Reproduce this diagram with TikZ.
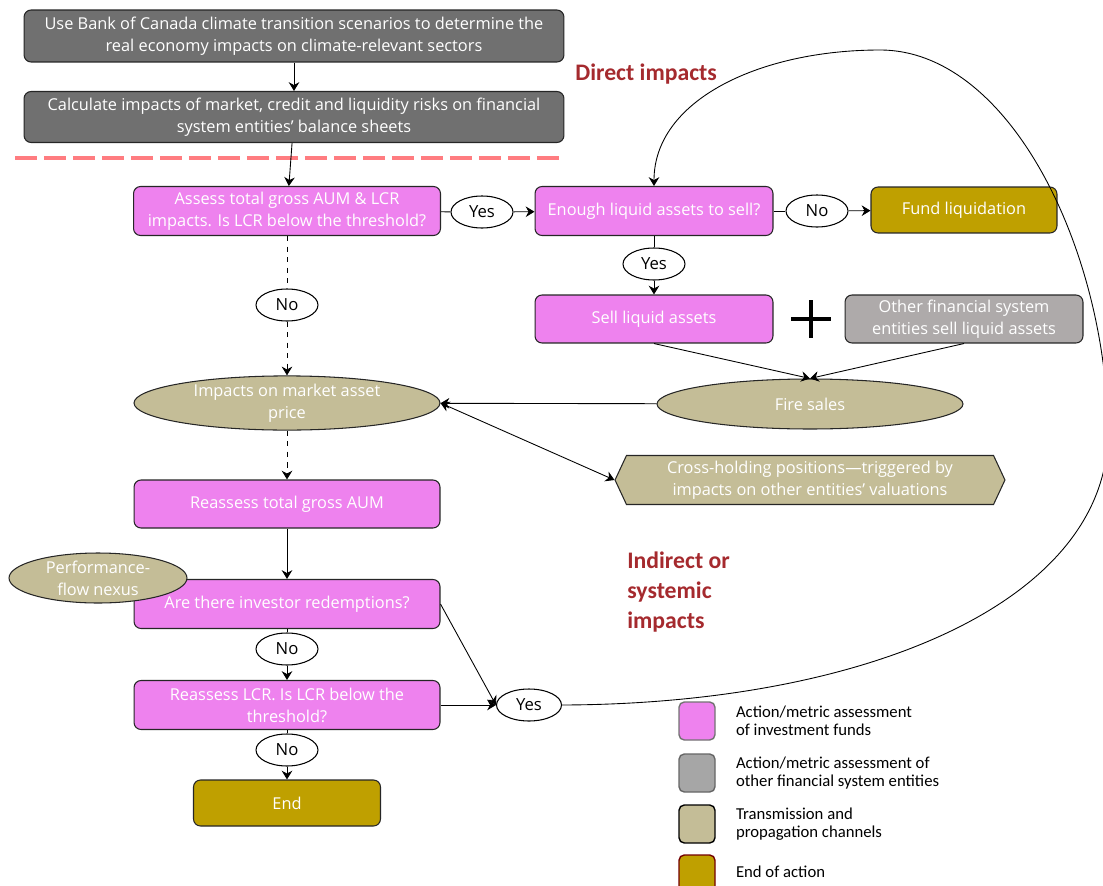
\documentclass[tikz,border=0pt]{standalone}
\usepackage{fontspec}
\setmainfont{Open Sans}
\newfontfamily\keyfont{Carlito}
\usepackage{tikz}
\usetikzlibrary{arrows.meta}
\usetikzlibrary{shapes.geometric, shapes.symbols}
\usetikzlibrary{positioning}

\definecolor{stepgrey}{RGB}{112,112,112}
\definecolor{fundpink}{RGB}{238,130,238}
\definecolor{endgold}{RGB}{191,160,0}
\definecolor{chantan}{RGB}{196,189,151}
\definecolor{othergrey}{RGB}{174,170,170}
\definecolor{keygrey}{RGB}{166,166,166}
\definecolor{headred}{RGB}{165,42,46}
\definecolor{cutred}{RGB}{255,124,128}

\tikzset{
  box/.style={rectangle, rounded corners=4pt, draw=black!85, line width=0.6pt,
    text=white, align=center, inner sep=2pt, font=\fontsize{9.3}{12.5}\selectfont},
  chan/.style={ellipse, draw=black!85, fill=chantan, line width=0.6pt,
    text=white, align=center, inner sep=0pt, font=\fontsize{9.3}{12.5}\selectfont},
  answer/.style={ellipse, draw=black, fill=white, line width=0.6pt,
    minimum width=1.24cm, minimum height=0.64cm, inner sep=0pt,
    font=\fontsize{9.5}{11}\selectfont},
  header/.style={text=headred, inner sep=0pt, align=left,
    font=\keyfont\bfseries\fontsize{13.5}{17.2}\selectfont},
  keybox/.style={rectangle, rounded corners=3pt, line width=0.8pt,
    minimum width=0.72cm, minimum height=0.76cm},
  keytext/.style={inner sep=0pt, align=left, font=\keyfont\fontsize{9.5}{10.5}\selectfont}
}

\begin{document}
\begin{tikzpicture}[x=0.02cm, y=-0.02cm]
	\useasboundingbox (0,0) rectangle (1103,886);

	\node[box, fill=stepgrey, minimum width=10.8cm, minimum height=1.04cm] (scen) at (294,36)
		{Use Bank of Canada climate transition scenarios to determine the\\real economy impacts on climate-relevant sectors};
	\node[box, fill=stepgrey, minimum width=10.8cm, minimum height=1.02cm] (risk) at (294,117)
		{Calculate impacts of market, credit and liquidity risks on financial\\system entities' balance sheets};

	\draw[cutred, line width=2.8pt, dash pattern=on 0.44cm off 0.14cm] (15,158) -- (562,158);

	\node[box, fill=fundpink, minimum width=6.14cm, minimum height=0.98cm] (assess) at (287,211)
		{Assess total gross AUM \& LCR\\impacts. Is LCR below the threshold?};
	\node[answer] (yesa) at (482,212) {Yes};
	\node[box, fill=fundpink, minimum width=4.76cm, minimum height=0.98cm] (enough) at (654,211)
		{Enough liquid assets to sell?};
	\node[answer] (noa) at (817,211) {No};
	\node[box, fill=endgold, minimum width=3.72cm, minimum height=0.92cm] (liquid) at (964,210)
		{Fund liquidation};
	\node[answer] (yesb) at (654,264) {Yes};
	\node[box, fill=fundpink, minimum width=4.76cm, minimum height=0.96cm] (sell) at (654,319)
		{Sell liquid assets};
	\node[box, fill=othergrey, minimum width=4.76cm, minimum height=0.96cm] (others) at (964,319)
		{Other financial system\\entities sell liquid assets};
	\node[chan, minimum width=6.12cm, minimum height=1cm] (fire) at (810,404) {Fire sales};
	\node[answer] (nob) at (287,305) {No};
	\node[chan, minimum width=6.12cm, minimum height=1cm] (price) at (287,403)
		{Impacts on market asset\\price};
	\node[signal, signal to=west and east, signal pointer angle=130, draw=black!85,
		fill=chantan, line width=0.6pt, text=white, align=center, inner sep=2pt,
		minimum width=7.8cm, minimum height=0.98cm, font=\fontsize{9.3}{12.5}\selectfont] (cross) at (810,480)
		{Cross-holding positions---triggered by\\impacts on other entities’ valuations};
	\node[box, fill=fundpink, minimum width=6.12cm, minimum height=0.96cm] (reaum) at (287,504)
		{Reassess total gross AUM};
	\node[box, fill=fundpink, minimum width=6.12cm, minimum height=0.98cm] (redeem) at (287,604)
		{Are there investor redemptions?};
	\node[chan, minimum width=3.56cm, minimum height=1cm] (nexus) at (98,578)
		{Performance-\\flow nexus};
	\node[answer] (noc) at (287,649) {No};
	\node[box, fill=fundpink, minimum width=6.12cm, minimum height=0.98cm] (relcr) at (287,705)
		{Reassess LCR. Is LCR below the\\threshold?};
	\node[answer] (nod) at (287,750) {No};
	\node[box, fill=endgold, minimum width=3.74cm, minimum height=0.92cm] (finish) at (287,803) {End};
	\node[answer, minimum width=1.3cm] (yesc) at (529,705) {Yes};

	\node[header, anchor=west] (direct) at (575,74) {Direct impacts};
	\node[header, anchor=north west] (indirect) at (627,551) {Indirect or\\systemic\\impacts};

	\begin{scope}[every node/.style={keybox}]
		\node[fill=fundpink, draw=black!55] (keyfund) at (697,721) {};
		\node[fill=keygrey, draw=black!60] (keyother) at (697,773) {};
		\node[fill=chantan, draw=black] (keychan) at (697,824) {};
		\node[fill=endgold, draw=red!45!black] (keyend) at (697,874) {};
	\end{scope}
	\node[keytext, right=0.4cm of keyfund] (txtfund) {Action/metric assessment\\of investment funds};
	\node[keytext, right=0.4cm of keyother] (txtother) {Action/metric assessment of\\other financial system entities};
	\node[keytext, right=0.4cm of keychan] (txtchan) {Transmission and\\propagation channels};
	\node[keytext, right=0.4cm of keyend, yshift=0.04cm] (txtend) {End of action};

	\draw[line width=2pt] (791,319) -- (831,319) (811,300) -- (811,338);

	\begin{scope}[>={Stealth[length=5pt, width=6pt]},
	              every edge/.style={draw=black, line width=0.5pt}]
		\path[->] (scen) edge (risk);
		\path[->] (risk) edge (assess);
		\path (assess) edge (yesa);
		\path[->] (yesa) edge (enough);
		\path (enough) edge (noa);
		\path[->] (noa) edge (liquid);
		\path (enough) edge (yesb);
		\path[->] (yesb) edge (sell);
		\path[dashed] (assess) edge (nob);
		\path[->, dashed] (nob) edge (price);
		\path[->] (sell.south) edge (fire.north);
		\path[->] (others.south) edge (fire.north);
		\path[->] (fire) edge (price);
		\path[<->] (price.east) edge (cross.west);
		\path[->, dashed] (price) edge (reaum);
		\path[->] (reaum) edge (redeem);
		\path (redeem) edge (noc);
		\path[->] (noc) edge (relcr);
		\path (relcr) edge (nod);
		\path[->] (nod) edge (finish);
		\path[->] (redeem.east) edge (yesc.west);
		\path[->] (relcr) edge (yesc);
		\path[->] (yesc.east) edge[to path={.. controls (870,704) and (1110,600) .. (1108,430)
			.. controls (1106,250) and (1010,50) .. (880,50)
			.. controls (760,50) and (654,100) .. (\tikztotarget)}] (enough.north);
	\end{scope}
\end{tikzpicture}
\end{document}
